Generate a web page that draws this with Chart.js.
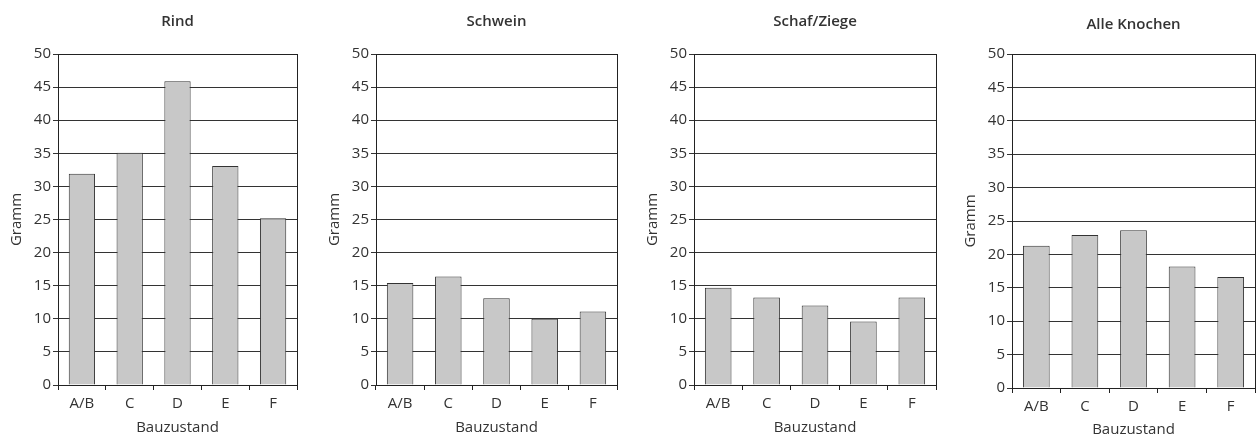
<!DOCTYPE html>
<html>
<head>
<meta charset="utf-8">
<script src="https://cdn.jsdelivr.net/npm/chart.js@4.4.1/dist/chart.umd.min.js"></script>
<style>
  html, body { margin: 0; padding: 0; background: #fff; }
  #wrap { position: relative; width: 1256px; height: 439px; overflow: hidden; }
  .panel { position: absolute; top: 0; height: 439px; }
</style>
</head>
<body>
<div id="wrap">
  <div class="panel" style="left:0px;width:300px"><canvas id="c0"></canvas></div>
  <div class="panel" style="left:318px;width:302px"><canvas id="c1"></canvas></div>
  <div class="panel" style="left:636px;width:303px"><canvas id="c2"></canvas></div>
  <div class="panel" style="left:954px;width:302px"><canvas id="c3"></canvas></div>
</div>
<script>
// Daten
const bauzustand = ['A/B', 'C', 'D', 'E', 'F'];
const rind = [31.9, 35.1, 45.9, 33.1, 25.2];
const schwein = [15.4, 16.4, 13.1, 10.0, 11.1];
const schafZiege = [14.7, 13.2, 12.0, 9.6, 13.2];
const alleKnochen = [21.3, 22.9, 23.6, 18.2, 16.6];
const titel = ['Rind', 'Schwein', 'Schaf/Ziege', 'Alle Knochen'];
const serien = [rind, schwein, schafZiege, alleKnochen];
const yTicks = [0, 5, 10, 15, 20, 25, 30, 35, 40, 45, 50];

const FONT = '"Open Sans", "Noto Sans", sans-serif';
const TEXT = '#333';

// Rahmen um den Plotbereich
const frame = {
    id: 'frame',
    afterDatasetsDraw(chart) {
        const a = chart.chartArea, ctx = chart.ctx;
        ctx.save();
        ctx.strokeStyle = '#222';
        ctx.lineWidth = 1;
        ctx.strokeRect(Math.round(a.left) + 0.5, Math.round(a.top) + 0.5,
            Math.round(a.right - a.left), Math.round(a.bottom - a.top));
        ctx.restore();
    }
};

// Layout je Panel (Höhe der x-Achse, Abstand rechts, Titelabstand)
const xAxisHeight = [54, 54, 54, 51];
const padRight = [3, 3, 3, 1];
const xTitlePad = [2, 2, 2, 0];

serien.forEach((werte, i) => {
    const ctx = document.getElementById('c' + i).getContext('2d');
    new Chart(ctx, {
        type: 'bar',
        data: {
            labels: bauzustand,
            datasets: [{
                label: titel[i],
                data: werte,
                backgroundColor: '#c8c8c8',
                borderColor: '#333',
                borderWidth: 1,
                barPercentage: 0.55,
                categoryPercentage: 1
            }]
        },
        options: {
            responsive: true,
            maintainAspectRatio: false,
            animation: false,
            layout: { padding: { left: 0, right: padRight[i], top: 0, bottom: 0 } },
            plugins: {
                legend: { display: false },
                tooltip: { enabled: false },
                title: {
                    display: true,
                    text: titel[i],
                    fullSize: false,
                    color: TEXT,
                    font: { family: FONT, size: 15, weight: '600' },
                    padding: { top: i === 3 ? 16 : 13, bottom: i === 3 ? 20 : 23 }
                }
            },
            scales: {
                x: {
                    afterFit: s => { s.height = xAxisHeight[i]; },
                    grid: {
                        offset: true,
                        drawOnChartArea: false,
                        drawTicks: true,
                        tickLength: 5,
                        color: '#222'
                    },
                    border: { color: '#222' },
                    ticks: { color: TEXT, font: { family: FONT, size: 15 }, padding: 5 },
                    title: {
                        display: true,
                        text: 'Bauzustand',
                        color: TEXT,
                        font: { family: FONT, size: 15 },
                        padding: { top: 0, bottom: xTitlePad[i] }
                    }
                },
                y: {
                    min: 0,
                    max: 50,
                    afterFit: s => { s.width = 58; },
                    afterBuildTicks: s => { s.ticks = yTicks.map(v => ({ value: v })); },
                    grid: { color: '#333', tickLength: 5, drawTicks: true },
                    border: { color: '#222' },
                    ticks: { color: TEXT, font: { family: FONT, size: 15 }, padding: 2 },
                    title: {
                        display: true,
                        text: 'Gramm',
                        color: TEXT,
                        font: { family: FONT, size: 15 },
                        padding: { top: 8, bottom: 0 }
                    }
                }
            }
        },
        plugins: [frame]
    });
});
</script>
</body>
</html>
